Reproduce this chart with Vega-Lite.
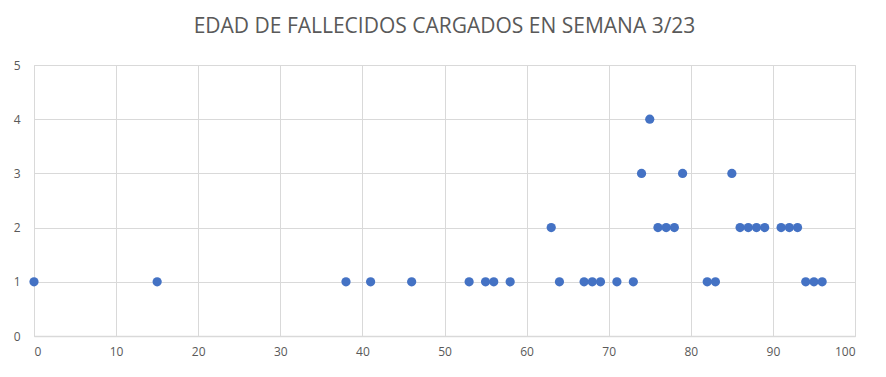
{
  "$schema": "https://vega.github.io/schema/vega-lite/v6.json",
  "width": 821,
  "height": 271,
  "autosize": {"type": "none"},
  "padding": {"left": 34, "top": 65, "right": 31, "bottom": 41},
  "background": "white",
  "title": {
    "text": "EDAD DE FALLECIDOS CARGADOS EN SEMANA 3/23",
    "font": "Open Sans",
    "fontSize": 21,
    "fontWeight": "normal",
    "color": "#595959",
    "anchor": "middle",
    "offset": 22
  },
  "config": {"view": {"stroke": "#d9d9d9"}},
  "data": {
    "values": [
      {"edad": 0, "n": 1}, {"edad": 15, "n": 1}, {"edad": 38, "n": 1}, {"edad": 41, "n": 1},
      {"edad": 46, "n": 1}, {"edad": 53, "n": 1}, {"edad": 55, "n": 1}, {"edad": 56, "n": 1},
      {"edad": 58, "n": 1}, {"edad": 63, "n": 2}, {"edad": 64, "n": 1}, {"edad": 67, "n": 1},
      {"edad": 68, "n": 1}, {"edad": 69, "n": 1}, {"edad": 71, "n": 1}, {"edad": 73, "n": 1},
      {"edad": 74, "n": 3}, {"edad": 75, "n": 4}, {"edad": 76, "n": 2}, {"edad": 77, "n": 2},
      {"edad": 78, "n": 2}, {"edad": 79, "n": 3}, {"edad": 82, "n": 1}, {"edad": 83, "n": 1},
      {"edad": 85, "n": 3}, {"edad": 86, "n": 2}, {"edad": 87, "n": 2}, {"edad": 88, "n": 2},
      {"edad": 89, "n": 2}, {"edad": 91, "n": 2}, {"edad": 92, "n": 2}, {"edad": 93, "n": 2},
      {"edad": 94, "n": 1}, {"edad": 95, "n": 1}, {"edad": 96, "n": 1}
    ]
  },
  "mark": {"type": "circle", "size": 85, "color": "#4472C4", "opacity": 1},
  "encoding": {
    "x": {
      "field": "edad", "type": "quantitative",
      "scale": {"domain": [0, 100], "nice": false},
      "axis": {
        "title": null, "values": [0,10,20,30,40,50,60,70,80,90,100],
        "grid": true, "gridColor": "#d9d9d9", "gridWidth": 1,
        "domainColor": "#d9d9d9", "domainWidth": 1.5, "ticks": false,
        "labelFont": "Open Sans", "labelFontSize": 12, "labelColor": "#595959",
        "labelPadding": 10
      }
    },
    "y": {
      "field": "n", "type": "quantitative",
      "scale": {"domain": [0, 5], "nice": false},
      "axis": {
        "title": null, "values": [0,1,2,3,4,5],
        "grid": true, "gridColor": "#d9d9d9", "gridWidth": 1,
        "domain": false, "ticks": false,
        "labelFont": "Open Sans", "labelFontSize": 12, "labelColor": "#595959",
        "labelPadding": 14
      }
    }
  }
}
